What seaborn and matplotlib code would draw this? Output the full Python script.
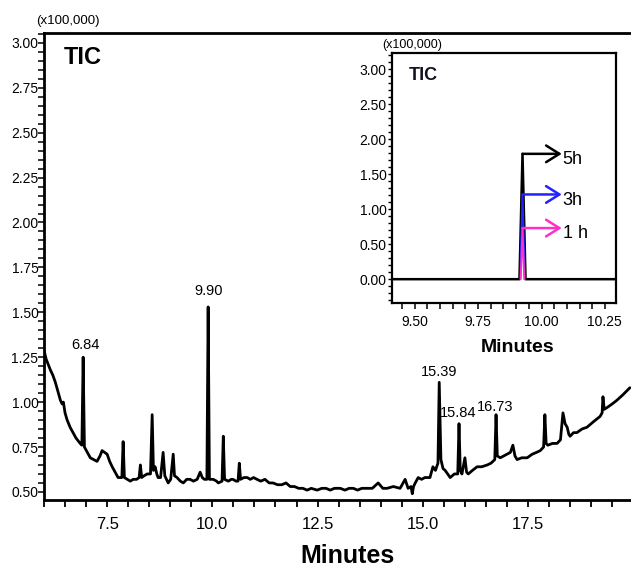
import matplotlib
matplotlib.use("Agg")
import matplotlib.pyplot as plt
import seaborn as sns
from matplotlib.ticker import MultipleLocator, FormatStrFormatter

# ---------------- data ----------------
rt = [6.00, 6.05, 6.10, 6.15, 6.21, 6.27, 6.33, 6.39, 6.43, 6.46, 6.50, 6.55, 6.62, 6.69, 6.76,
      6.86, 6.90, 6.93, 6.96, 7.03, 7.10, 7.18, 7.26, 7.33, 7.38, 7.44, 7.50, 7.56, 7.62, 7.69,
      7.76, 7.85, 7.88, 7.91, 7.98, 8.05, 8.12, 8.20, 8.26, 8.29, 8.32, 8.38, 8.45, 8.53, 8.57,
      8.60, 8.64, 8.68, 8.71, 8.77, 8.83, 8.87, 8.95, 9.01, 9.07, 9.10, 9.16, 9.24, 9.31, 9.39,
      9.47, 9.55, 9.64, 9.71, 9.76, 9.81, 9.87, 9.90, 9.93, 10.02, 10.10, 10.14, 10.23, 10.26,
      10.29, 10.38, 10.45, 10.49, 10.56, 10.61, 10.64, 10.67, 10.75, 10.83, 10.90, 10.98, 11.06,
      11.15, 11.25, 11.35, 11.44, 11.55, 11.65, 11.75, 11.85, 11.95, 12.05, 12.15, 12.25, 12.35,
      12.49, 12.60, 12.70, 12.80, 12.90, 13.04, 13.15, 13.25, 13.35, 13.45, 13.55, 13.67, 13.80,
      13.94, 14.05, 14.15, 14.30, 14.46, 14.58, 14.65, 14.72, 14.75, 14.78, 14.82, 14.89, 14.97,
      15.05, 15.17, 15.24, 15.30, 15.36, 15.39, 15.43, 15.48, 15.53, 15.59, 15.65, 15.75, 15.83,
      15.86, 15.89, 15.93, 16.00, 16.04, 16.08, 16.18, 16.29, 16.40, 16.53, 16.62, 16.71, 16.74,
      16.77, 16.84, 16.92, 17.00, 17.08, 17.14, 17.19, 17.24, 17.35, 17.48, 17.60, 17.70, 17.79,
      17.87, 17.90, 17.93, 17.97, 18.08, 18.19, 18.27, 18.33, 18.38, 18.43, 18.47, 18.50, 18.58,
      18.66, 18.78, 18.90, 19.05, 19.21, 19.26, 19.28, 19.31, 19.38, 19.50, 19.61, 19.75, 19.92]
tic = [1.29, 1.24, 1.21, 1.18, 1.15, 1.11, 1.06, 1.01, 0.99, 1.00, 0.94, 0.90, 0.86, 0.83, 0.80,
       0.77, 0.76, 1.25, 0.75, 0.72, 0.69, 0.68, 0.67, 0.70, 0.73, 0.72, 0.71, 0.67, 0.64, 0.61,
       0.58, 0.58, 0.78, 0.58, 0.57, 0.56, 0.57, 0.57, 0.58, 0.65, 0.58, 0.59, 0.60, 0.60, 0.93,
       0.62, 0.64, 0.60, 0.58, 0.58, 0.72, 0.59, 0.55, 0.57, 0.71, 0.59, 0.58, 0.56, 0.55, 0.57,
       0.57, 0.56, 0.57, 0.61, 0.58, 0.57, 0.57, 1.53, 0.57, 0.57, 0.56, 0.55, 0.56, 0.81,
       0.57, 0.56, 0.57, 0.57, 0.56, 0.56, 0.66, 0.57, 0.58, 0.58, 0.57, 0.58, 0.57,
       0.56, 0.57, 0.55, 0.55, 0.54, 0.54, 0.55, 0.53, 0.53, 0.52, 0.52, 0.51, 0.52,
       0.51, 0.52, 0.52, 0.51, 0.52, 0.52, 0.51, 0.52, 0.52, 0.51, 0.52, 0.52, 0.52,
       0.55, 0.52, 0.52, 0.53, 0.52, 0.57, 0.52, 0.53, 0.49, 0.53, 0.55, 0.58, 0.57,
       0.58, 0.58, 0.64, 0.62, 0.66, 1.11, 0.68, 0.63, 0.62, 0.60, 0.58, 0.60, 0.60,
       0.88, 0.62, 0.60, 0.69, 0.61, 0.60, 0.62, 0.64, 0.64, 0.65, 0.66, 0.68, 0.93,
       0.70, 0.69, 0.70, 0.71, 0.72, 0.76, 0.70, 0.68, 0.69, 0.69, 0.71, 0.72, 0.73,
       0.75, 0.93, 0.77, 0.76, 0.77, 0.77, 0.79, 0.94, 0.88, 0.86, 0.82, 0.81, 0.83,
       0.83, 0.85, 0.86, 0.89, 0.92, 0.94, 1.03, 0.96, 0.97, 0.99, 1.01, 1.04, 1.08]

peak_text = ["6.84", "9.90", "15.39", "15.84", "16.73"]
peak_text_x = [6.98, 9.90, 15.39, 15.84, 16.71]
peak_text_y = [1.32, 1.62, 1.17, 0.94, 0.97]

# inset (zoom on the 9.9 min peak)
inset_rt_5h = [9.410, 9.913, 9.925, 9.937, 10.294]
inset_int_5h = [0.0, 0.0, 1.79, 0.0, 0.0]
inset_rt_3h = [9.916, 9.925, 9.934]
inset_int_3h = [0.0, 1.21, 0.0]
inset_rt_1h = [9.918, 9.925, 9.932]
inset_int_1h = [0.0, 0.73, 0.0]
inset_series = ["5h", "3h", "1 h"]
inset_colors = ["black", "#2222ff", "#ff2fc8"]
inset_heights = [1.79, 1.21, 0.73]
arrow_start = 9.925
arrow_end = 10.08

# ---------------- figure ----------------
sns.set_theme(style="white")
plt.rcParams["font.family"] = ["Liberation Sans", "DejaVu Sans"]
NARROW = ["Liberation Sans Narrow", "Liberation Sans", "DejaVu Sans"]

W, H = 631, 570
fig = plt.figure(figsize=(W / 100, H / 100), dpi=100)
fig.patch.set_facecolor("white")

# main axes
ax = fig.add_axes([44 / W, 1 - 500 / H, (632 - 44) / W, (500 - 33) / H])
sns.lineplot(x=rt, y=tic, ax=ax, color="black", linewidth=2.0, sort=False, estimator=None)
ax.set_xlim(6.0, 19.97)
ax.set_ylim(0.455, 3.055)
ax.xaxis.set_major_locator(MultipleLocator(2.5))
ax.xaxis.set_minor_locator(MultipleLocator(0.5))
ax.xaxis.set_major_formatter(FormatStrFormatter("%.1f"))
ax.yaxis.set_major_locator(MultipleLocator(0.25))
ax.yaxis.set_minor_locator(MultipleLocator(0.05))
ax.yaxis.set_major_formatter(FormatStrFormatter("%.2f"))
ax.tick_params(axis="x", which="both", direction="out", length=5, width=1.3, colors="black",
               bottom=True, pad=7, labelsize=12, labelfontfamily=NARROW)
ax.tick_params(axis="y", which="both", direction="out", length=4, width=1.1, colors="black",
               left=True, pad=0, labelsize=10, labelfontfamily=NARROW)
for s in ax.spines.values():
    s.set_color("black")
    s.set_linewidth(2.0)
ax.set_xlabel("")
ax.set_ylabel("")

for t, x, y in zip(peak_text, peak_text_x, peak_text_y):
    ax.text(x, y, t, ha="center", va="center", fontsize=10.5, family=NARROW, color="black")

fig.text(68 / W, 1 - 21 / H, "(x100,000)", ha="center", va="center", fontsize=9.5,
         family=NARROW, color="black")
fig.text(64 / W, 1 - 57 / H, "TIC", ha="left", va="center", fontsize=17,
         fontweight="bold", color="black")
fig.text(348 / W, 1 - 556 / H, "Minutes", ha="center", va="center", fontsize=18,
         fontweight="bold", color="black")

# inset axes
axin = fig.add_axes([392 / W, 1 - 303 / H, (616 - 392) / W, (303 - 53) / H])
axin.set_facecolor("white")
sns.lineplot(x=inset_rt_5h, y=inset_int_5h, ax=axin, color=inset_colors[0], linewidth=1.8,
             sort=False, estimator=None)
sns.lineplot(x=inset_rt_3h, y=inset_int_3h, ax=axin, color=inset_colors[1], linewidth=1.4,
             sort=False, estimator=None)
sns.lineplot(x=inset_rt_1h, y=inset_int_1h, ax=axin, color=inset_colors[2], linewidth=1.4,
             sort=False, estimator=None)
for name, c, h in zip(inset_series, inset_colors, inset_heights):
    axin.annotate("", xy=(arrow_end, h), xytext=(arrow_start, h),
                  arrowprops=dict(arrowstyle="->,head_length=0.8,head_width=0.5",
                                  color=c, lw=1.8, shrinkA=0, shrinkB=0))
    axin.text(arrow_end + 0.004, h - 0.08, name, ha="left", va="center", fontsize=13,
              family=NARROW, color="black")
axin.set_xlim(9.41, 10.294)
axin.set_ylim(-0.34, 3.23)
axin.xaxis.set_major_locator(MultipleLocator(0.25))
axin.xaxis.set_minor_locator(MultipleLocator(0.05))
axin.xaxis.set_major_formatter(FormatStrFormatter("%.2f"))
axin.yaxis.set_major_locator(MultipleLocator(0.5))
axin.yaxis.set_minor_locator(MultipleLocator(0.1))
axin.yaxis.set_major_formatter(FormatStrFormatter("%.2f"))
axin.tick_params(axis="x", which="both", direction="out", length=4, width=1.1, colors="black",
                 bottom=True, pad=5, labelsize=10, labelfontfamily=NARROW)
axin.tick_params(axis="y", which="both", direction="out", length=3, width=1.0, colors="black",
                 left=True, pad=1, labelsize=10, labelfontfamily=NARROW)
for s in axin.spines.values():
    s.set_color("black")
    s.set_linewidth(1.6)
axin.set_xlabel("")
axin.set_ylabel("")
axin.text(9.478, 2.91, "TIC", ha="left", va="center", fontsize=13, fontweight="bold",
          color="#111122")
fig.text(412 / W, 1 - 45 / H, "(x100,000)", ha="center", va="center", fontsize=9,
         family=NARROW, color="black")
fig.text(518 / W, 1 - 348 / H, "Minutes", ha="center", va="center", fontsize=14,
         fontweight="bold", color="black")

fig.savefig("out.png", dpi=100, facecolor="white")
